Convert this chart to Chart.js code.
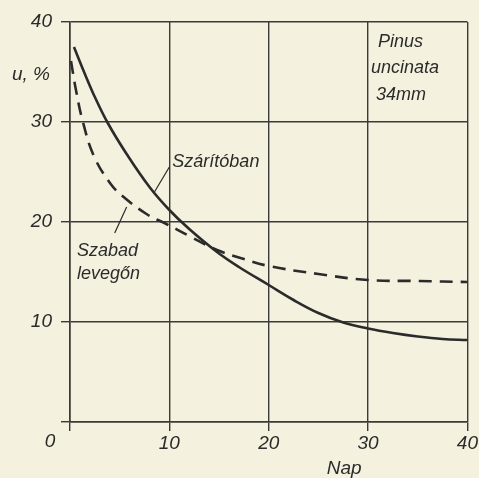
<!DOCTYPE html>
<html>
<head>
<meta charset="utf-8">
<script src="https://cdn.jsdelivr.net/npm/chart.js@4/dist/chart.umd.min.js"></script>
<style>
  html, body { margin: 0; padding: 0; background: #f4f1de; }
  #wrap { width: 479px; height: 478px; }
</style>
</head>
<body>
<div id="wrap"><canvas id="myChart" width="479" height="478"></canvas></div>
<script>
// drying curves, Pinus uncinata 34mm
const kilnDays = [0.4, 1.5, 2.5, 3.8, 5.7, 8, 10, 12, 14.8, 17, 20, 22.5, 25, 27.5, 30, 32.5, 35, 37.5, 40];
const kilnMoisture = [37.5, 34.8, 32.5, 29.9, 26.8, 23.5, 21.2, 19.3, 17.0, 15.5, 13.7, 12.2, 10.9, 9.95, 9.35, 8.9, 8.55, 8.3, 8.2];
const airDays = [0.1, 0.6, 1.3, 2.4, 4.1, 5.4, 7.7, 9.7, 12, 14.8, 17.5, 20, 25, 30, 35, 40];
const airMoisture = [36.1, 33.2, 30, 26.6, 23.8, 22.5, 20.8, 19.8, 18.6, 17.2, 16.3, 15.6, 14.8, 14.2, 14.1, 14.0];
const xTicks = [0, 10, 20, 30, 40];
const yTicks = [0, 10, 20, 30, 40];

const ink = '#2b2b2b';
const font = "'Liberation Sans', 'DejaVu Sans', sans-serif";

function toPoints(xs, ys) {
  return xs.map((x, i) => ({ x: x, y: ys[i] }));
}

// free text and leader lines of the drawing
const notes = {
  id: 'notes',
  afterDraw(chart) {
    const c = chart.ctx;
    const xs = chart.scales.x;
    const ys = chart.scales.y;
    const area = chart.chartArea;
    const px = v => xs.getPixelForValue(v);
    const py = v => ys.getPixelForValue(v);
    c.save();
    c.fillStyle = ink;
    c.strokeStyle = ink;
    c.lineWidth = 1.2;
    c.font = 'italic 18px ' + font;
    c.textBaseline = 'middle';
    c.textAlign = 'left';
    c.fillText('Szárítóban', px(10.3), py(26.0));
    c.fillText('Szabad', px(0.7), py(17.1));
    c.fillText('levegőn', px(0.7), py(14.8));
    c.fillText('Pinus', px(31), py(38));
    c.fillText('uncinata', px(30.3), py(35.4));
    c.fillText('34mm', px(30.8), py(32.7));

    c.beginPath();
    c.moveTo(px(10), py(25.5));
    c.lineTo(px(8.5), py(23.0));
    c.moveTo(px(5.7), py(21.5));
    c.lineTo(px(4.5), py(18.9));
    c.stroke();

    c.textAlign = 'center';
    c.font = 'italic 19px ' + font;
    c.fillText('u, %', area.left - 39, py(34.7));
    c.fillText('0', area.left - 20, area.bottom + 20);
    c.fillText('Nap', px(27.6), area.bottom + 47);
    c.restore();
  }
};

const ctx = document.getElementById('myChart').getContext('2d');
const data = {
  datasets: [
    {
      label: 'Szárítóban',
      data: toPoints(kilnDays, kilnMoisture),
      showLine: true,
      borderColor: ink,
      borderWidth: 2.6,
      pointRadius: 0,
      tension: 0.4
    },
    {
      label: 'Szabad levegőn',
      data: toPoints(airDays, airMoisture),
      showLine: true,
      borderColor: ink,
      borderWidth: 2.6,
      borderDash: [13, 8],
      pointRadius: 0,
      tension: 0.4
    }
  ]
};

const options = {
  responsive: false,
  animation: false,
  layout: { padding: { top: 22, right: 8, left: 0, bottom: 0 } },
  plugins: {
    legend: { display: false },
    tooltip: { enabled: false }
  },
  scales: {
    x: {
      type: 'linear',
      min: 0,
      max: 40,
      afterBuildTicks: s => { s.ticks = xTicks.map(v => ({ value: v })); },
      afterFit: s => { s.height = 56; },
      grid: { color: '#3a3a3a', lineWidth: 1.4, tickLength: 9, drawTicks: true },
      border: { color: '#3a3a3a', width: 1.6 },
      ticks: {
        color: ink,
        padding: 1,
        font: { family: font, size: 19, style: 'italic' },
        maxRotation: 0,
        callback: v => (v === 0 ? '' : String(v))
      }
    },
    y: {
      type: 'linear',
      min: 0,
      max: 40,
      afterBuildTicks: s => { s.ticks = yTicks.map(v => ({ value: v })); },
      afterFit: s => { s.width = 70; },
      grid: { color: '#3a3a3a', lineWidth: 1.4, tickLength: 9, drawTicks: true },
      border: { color: '#3a3a3a', width: 1.6 },
      ticks: {
        color: ink,
        padding: 9,
        font: { family: font, size: 19, style: 'italic' },
        callback: v => (v === 0 ? '' : String(v))
      }
    }
  }
};

const myChart = new Chart(ctx, {
  type: 'scatter',
  data: data,
  options: options,
  plugins: [notes]
});
</script>
</body>
</html>
